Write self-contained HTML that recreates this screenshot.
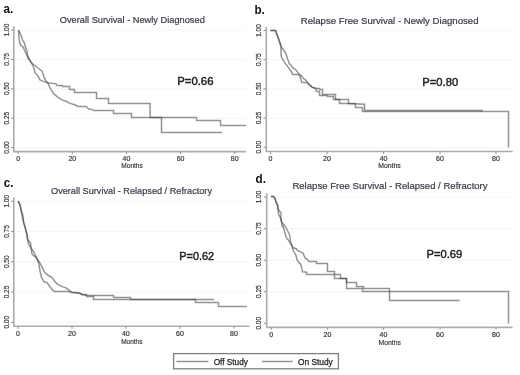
<!DOCTYPE html>
<html><head><meta charset="utf-8"><style>
html,body{margin:0;padding:0;background:#fff;}
svg{display:block;will-change:transform;}
text{font-family:"Liberation Sans", sans-serif;}
</style></head><body>
<svg width="520" height="375" viewBox="0 0 520 375">
<rect width="520" height="375" fill="#fff"/>
<line x1="15.3" y1="30.0" x2="246" y2="30.0" stroke="#f7f7f7" stroke-width="1.2"/>
<line x1="15.3" y1="59.4" x2="246" y2="59.4" stroke="#f7f7f7" stroke-width="1.2"/>
<line x1="15.3" y1="88.8" x2="246" y2="88.8" stroke="#f7f7f7" stroke-width="1.2"/>
<line x1="15.3" y1="118.2" x2="246" y2="118.2" stroke="#f7f7f7" stroke-width="1.2"/>
<line x1="15.3" y1="147.6" x2="246" y2="147.6" stroke="#f7f7f7" stroke-width="1.2"/>
<polyline points="13.8,26.3 13.8,151.6 246,151.6" fill="none" stroke="#acacac" stroke-width="1.6"/>
<line x1="11.0" y1="30.0" x2="13.8" y2="30.0" stroke="#999" stroke-width="1.1"/>
<text x="0" y="0" transform="translate(5.9,30.0) rotate(-90) scale(0.92,1)" text-anchor="middle" dominant-baseline="central" font-size="7" fill="#333" stroke="#333" stroke-width="0.18">1.00</text>
<line x1="11.0" y1="59.4" x2="13.8" y2="59.4" stroke="#999" stroke-width="1.1"/>
<text x="0" y="0" transform="translate(5.9,59.4) rotate(-90) scale(0.92,1)" text-anchor="middle" dominant-baseline="central" font-size="7" fill="#333" stroke="#333" stroke-width="0.18">0.75</text>
<line x1="11.0" y1="88.8" x2="13.8" y2="88.8" stroke="#999" stroke-width="1.1"/>
<text x="0" y="0" transform="translate(5.9,88.8) rotate(-90) scale(0.92,1)" text-anchor="middle" dominant-baseline="central" font-size="7" fill="#333" stroke="#333" stroke-width="0.18">0.50</text>
<line x1="11.0" y1="118.2" x2="13.8" y2="118.2" stroke="#999" stroke-width="1.1"/>
<text x="0" y="0" transform="translate(5.9,118.2) rotate(-90) scale(0.92,1)" text-anchor="middle" dominant-baseline="central" font-size="7" fill="#333" stroke="#333" stroke-width="0.18">0.25</text>
<line x1="11.0" y1="147.6" x2="13.8" y2="147.6" stroke="#999" stroke-width="1.1"/>
<text x="0" y="0" transform="translate(5.9,147.6) rotate(-90) scale(0.92,1)" text-anchor="middle" dominant-baseline="central" font-size="7" fill="#333" stroke="#333" stroke-width="0.18">0.00</text>
<line x1="18.1" y1="151.6" x2="18.1" y2="154.0" stroke="#999" stroke-width="1.1"/>
<text x="18.1" y="160.8" text-anchor="middle" font-size="7" fill="#333" stroke="#333" stroke-width="0.18">0</text>
<line x1="72.3" y1="151.6" x2="72.3" y2="154.0" stroke="#999" stroke-width="1.1"/>
<text x="72.3" y="160.8" text-anchor="middle" font-size="7" fill="#333" stroke="#333" stroke-width="0.18">20</text>
<line x1="126.5" y1="151.6" x2="126.5" y2="154.0" stroke="#999" stroke-width="1.1"/>
<text x="126.5" y="160.8" text-anchor="middle" font-size="7" fill="#333" stroke="#333" stroke-width="0.18">40</text>
<line x1="180.6" y1="151.6" x2="180.6" y2="154.0" stroke="#999" stroke-width="1.1"/>
<text x="180.6" y="160.8" text-anchor="middle" font-size="7" fill="#333" stroke="#333" stroke-width="0.18">60</text>
<line x1="234.7" y1="151.6" x2="234.7" y2="154.0" stroke="#999" stroke-width="1.1"/>
<text x="234.7" y="160.8" text-anchor="middle" font-size="7" fill="#333" stroke="#333" stroke-width="0.18">80</text>
<text x="121.3" y="167.6" font-size="6.5" fill="#333" stroke="#333" stroke-width="0.15" textLength="21.5" lengthAdjust="spacingAndGlyphs">Months</text>
<polyline points="18.5,30.2 18.8,34.4 19.2,38.9 19.8,43.4 21.4,45.9 23.3,47.2 24.3,49.8 25.3,52.0 26.2,53.9 27.2,55.5 29.0,58.4 31.2,62.5 32.0,64.0 34.0,68.0 35.0,73.0 38.0,76.0 40.0,80.0 44.0,81.6 48.0,83.0 55.6,83.6 57.0,85.5 62.5,85.5 62.5,86.5 69.5,86.5 69.5,89.5 74.5,89.5 74.5,92.5 96.5,92.5 96.5,98.5 108.5,98.5 108.5,103.5 150.0,103.5 150.2,117.5 161.5,117.5 161.5,132.5 222.0,132.5" fill="none" stroke="#3a3a3a" stroke-opacity="0.55" stroke-width="1.5" stroke-linejoin="miter"/>
<polyline points="18.5,30.2 19.8,32.5 21.4,36.3 22.4,39.5 23.7,41.8 24.6,43.4 25.3,46.6 26.2,49.2 27.2,52.0 27.4,55.0 28.0,58.4 29.5,60.2 31.2,62.5 33.0,64.0 38.0,68.0 42.0,71.0 44.0,77.0 46.0,81.0 48.0,83.0 49.4,86.8 53.5,93.7 57.7,97.2 61.9,99.9 66.0,101.3 70.2,103.4 75.0,104.8 77.8,106.5 86.0,106.5 88.5,108.7 92.0,109.6 93.7,110.5 113.5,110.5 113.5,113.5 131.5,113.5 131.5,117.5 196.5,117.5 196.5,120.5 220.5,120.5 220.5,125.5 246.0,125.5" fill="none" stroke="#463a3a" stroke-opacity="0.55" stroke-width="1.5" stroke-linejoin="miter"/>
<text x="59.8" y="23.1" font-size="9.4" fill="#3a3a48" stroke="#3a3a48" stroke-width="0.2" textLength="145" lengthAdjust="spacingAndGlyphs">Overall Survival - Newly Diagnosed</text>
<text x="0" y="0" transform="translate(3.6,13.4) scale(0.9,1)" font-size="13" font-weight="bold" fill="#111">a.</text>
<text x="177.2" y="84.6" font-size="11.8" fill="#222" stroke="#222" stroke-width="0.45" textLength="36.3" lengthAdjust="spacingAndGlyphs">P=0.66</text>
<line x1="267.8" y1="30.5" x2="512.6" y2="30.5" stroke="#f7f7f7" stroke-width="1.2"/>
<line x1="267.8" y1="59.7" x2="512.6" y2="59.7" stroke="#f7f7f7" stroke-width="1.2"/>
<line x1="267.8" y1="88.9" x2="512.6" y2="88.9" stroke="#f7f7f7" stroke-width="1.2"/>
<line x1="267.8" y1="118.1" x2="512.6" y2="118.1" stroke="#f7f7f7" stroke-width="1.2"/>
<line x1="267.8" y1="147.3" x2="512.6" y2="147.3" stroke="#f7f7f7" stroke-width="1.2"/>
<polyline points="266.3,26.9 266.3,151.5 512.6,151.5" fill="none" stroke="#acacac" stroke-width="1.6"/>
<line x1="263.5" y1="30.5" x2="266.3" y2="30.5" stroke="#999" stroke-width="1.1"/>
<text x="0" y="0" transform="translate(258.1,30.5) rotate(-90) scale(0.92,1)" text-anchor="middle" dominant-baseline="central" font-size="7" fill="#333" stroke="#333" stroke-width="0.18">1.00</text>
<line x1="263.5" y1="59.7" x2="266.3" y2="59.7" stroke="#999" stroke-width="1.1"/>
<text x="0" y="0" transform="translate(258.1,59.7) rotate(-90) scale(0.92,1)" text-anchor="middle" dominant-baseline="central" font-size="7" fill="#333" stroke="#333" stroke-width="0.18">0.75</text>
<line x1="263.5" y1="88.9" x2="266.3" y2="88.9" stroke="#999" stroke-width="1.1"/>
<text x="0" y="0" transform="translate(258.1,88.9) rotate(-90) scale(0.92,1)" text-anchor="middle" dominant-baseline="central" font-size="7" fill="#333" stroke="#333" stroke-width="0.18">0.50</text>
<line x1="263.5" y1="118.1" x2="266.3" y2="118.1" stroke="#999" stroke-width="1.1"/>
<text x="0" y="0" transform="translate(258.1,118.1) rotate(-90) scale(0.92,1)" text-anchor="middle" dominant-baseline="central" font-size="7" fill="#333" stroke="#333" stroke-width="0.18">0.25</text>
<line x1="263.5" y1="147.3" x2="266.3" y2="147.3" stroke="#999" stroke-width="1.1"/>
<text x="0" y="0" transform="translate(258.1,147.3) rotate(-90) scale(0.92,1)" text-anchor="middle" dominant-baseline="central" font-size="7" fill="#333" stroke="#333" stroke-width="0.18">0.00</text>
<line x1="270.4" y1="151.5" x2="270.4" y2="153.9" stroke="#999" stroke-width="1.1"/>
<text x="270.4" y="161.0" text-anchor="middle" font-size="7" fill="#333" stroke="#333" stroke-width="0.18">0</text>
<line x1="327" y1="151.5" x2="327" y2="153.9" stroke="#999" stroke-width="1.1"/>
<text x="327" y="161.0" text-anchor="middle" font-size="7" fill="#333" stroke="#333" stroke-width="0.18">20</text>
<line x1="383.6" y1="151.5" x2="383.6" y2="153.9" stroke="#999" stroke-width="1.1"/>
<text x="383.6" y="161.0" text-anchor="middle" font-size="7" fill="#333" stroke="#333" stroke-width="0.18">40</text>
<line x1="440" y1="151.5" x2="440" y2="153.9" stroke="#999" stroke-width="1.1"/>
<text x="440" y="161.0" text-anchor="middle" font-size="7" fill="#333" stroke="#333" stroke-width="0.18">60</text>
<line x1="496" y1="151.5" x2="496" y2="153.9" stroke="#999" stroke-width="1.1"/>
<text x="496" y="161.0" text-anchor="middle" font-size="7" fill="#333" stroke="#333" stroke-width="0.18">80</text>
<text x="378.2" y="167.9" font-size="6.5" fill="#333" stroke="#333" stroke-width="0.15" textLength="22.5" lengthAdjust="spacingAndGlyphs">Months</text>
<polyline points="270.5,30.5 275.5,30.5 276.0,31.5 277.1,35.1 279.1,40.2 280.7,45.3 281.0,47.8 281.2,56.4 282.7,59.4 285.1,63.1 288.1,67.1 291.1,71.2 292.7,74.5 297.7,74.5 299.8,75.7 300.8,79.3 301.8,82.5 306.8,82.5 308.4,84.3 312.4,87.4 316.5,88.5 319.5,88.5 319.5,89.5 322.5,89.5 322.5,94.5 335.5,94.5 335.5,99.5 348.5,99.5 348.5,103.5 364.5,104.2 364.5,110.5 483.0,110.5" fill="none" stroke="#3a3a3a" stroke-opacity="0.55" stroke-width="1.5" stroke-linejoin="miter"/>
<polyline points="270.5,30.5 275.5,30.5 276.0,31.5 277.1,35.1 279.1,40.2 280.7,45.3 282.2,48.3 284.7,51.3 286.2,54.4 287.8,59.4 289.5,64.0 290.1,64.1 293.2,68.1 296.2,70.2 298.7,73.7 300.8,75.2 303.3,78.3 305.8,80.3 308.4,83.3 310.4,85.4 312.4,87.4 315.5,88.4 316.5,91.5 319.5,91.5 319.5,95.5 327.5,95.5 327.5,96.5 333.5,96.5 333.5,99.5 339.5,99.5 339.5,103.5 355.5,103.5 355.5,107.5 362.5,107.5 362.5,111.5 508.5,111.5 508.5,147.3" fill="none" stroke="#463a3a" stroke-opacity="0.55" stroke-width="1.5" stroke-linejoin="miter"/>
<text x="300.8" y="23.8" font-size="9.4" fill="#3a3a48" stroke="#3a3a48" stroke-width="0.2" textLength="177.7" lengthAdjust="spacingAndGlyphs">Relapse Free Survival - Newly Diagnosed</text>
<text x="0" y="0" transform="translate(254.4,13.5) scale(0.9,1)" font-size="13" font-weight="bold" fill="#111">b.</text>
<text x="422.3" y="86.2" font-size="11.8" fill="#222" stroke="#222" stroke-width="0.45" textLength="35.9" lengthAdjust="spacingAndGlyphs">P=0.80</text>
<line x1="15.3" y1="201.3" x2="249.4" y2="201.3" stroke="#f7f7f7" stroke-width="1.2"/>
<line x1="15.3" y1="231.5" x2="249.4" y2="231.5" stroke="#f7f7f7" stroke-width="1.2"/>
<line x1="15.3" y1="261.8" x2="249.4" y2="261.8" stroke="#f7f7f7" stroke-width="1.2"/>
<line x1="15.3" y1="292.0" x2="249.4" y2="292.0" stroke="#f7f7f7" stroke-width="1.2"/>
<line x1="15.3" y1="322.3" x2="249.4" y2="322.3" stroke="#f7f7f7" stroke-width="1.2"/>
<polyline points="13.8,197.5 13.8,326.3 249.4,326.3" fill="none" stroke="#acacac" stroke-width="1.6"/>
<line x1="11.0" y1="201.3" x2="13.8" y2="201.3" stroke="#999" stroke-width="1.1"/>
<text x="0" y="0" transform="translate(5.9,201.3) rotate(-90) scale(0.92,1)" text-anchor="middle" dominant-baseline="central" font-size="7" fill="#333" stroke="#333" stroke-width="0.18">1.00</text>
<line x1="11.0" y1="231.5" x2="13.8" y2="231.5" stroke="#999" stroke-width="1.1"/>
<text x="0" y="0" transform="translate(5.9,231.5) rotate(-90) scale(0.92,1)" text-anchor="middle" dominant-baseline="central" font-size="7" fill="#333" stroke="#333" stroke-width="0.18">0.75</text>
<line x1="11.0" y1="261.8" x2="13.8" y2="261.8" stroke="#999" stroke-width="1.1"/>
<text x="0" y="0" transform="translate(5.9,261.8) rotate(-90) scale(0.92,1)" text-anchor="middle" dominant-baseline="central" font-size="7" fill="#333" stroke="#333" stroke-width="0.18">0.50</text>
<line x1="11.0" y1="292.0" x2="13.8" y2="292.0" stroke="#999" stroke-width="1.1"/>
<text x="0" y="0" transform="translate(5.9,292.0) rotate(-90) scale(0.92,1)" text-anchor="middle" dominant-baseline="central" font-size="7" fill="#333" stroke="#333" stroke-width="0.18">0.25</text>
<line x1="11.0" y1="322.3" x2="13.8" y2="322.3" stroke="#999" stroke-width="1.1"/>
<text x="0" y="0" transform="translate(5.9,322.3) rotate(-90) scale(0.92,1)" text-anchor="middle" dominant-baseline="central" font-size="7" fill="#333" stroke="#333" stroke-width="0.18">0.00</text>
<line x1="18" y1="326.3" x2="18" y2="328.7" stroke="#999" stroke-width="1.1"/>
<text x="18" y="336.2" text-anchor="middle" font-size="7" fill="#333" stroke="#333" stroke-width="0.18">0</text>
<line x1="72" y1="326.3" x2="72" y2="328.7" stroke="#999" stroke-width="1.1"/>
<text x="72" y="336.2" text-anchor="middle" font-size="7" fill="#333" stroke="#333" stroke-width="0.18">20</text>
<line x1="125.8" y1="326.3" x2="125.8" y2="328.7" stroke="#999" stroke-width="1.1"/>
<text x="125.8" y="336.2" text-anchor="middle" font-size="7" fill="#333" stroke="#333" stroke-width="0.18">40</text>
<line x1="180" y1="326.3" x2="180" y2="328.7" stroke="#999" stroke-width="1.1"/>
<text x="180" y="336.2" text-anchor="middle" font-size="7" fill="#333" stroke="#333" stroke-width="0.18">60</text>
<line x1="234" y1="326.3" x2="234" y2="328.7" stroke="#999" stroke-width="1.1"/>
<text x="234" y="336.2" text-anchor="middle" font-size="7" fill="#333" stroke="#333" stroke-width="0.18">80</text>
<text x="121.2" y="343.5" font-size="6.5" fill="#333" stroke="#333" stroke-width="0.15" textLength="21.3" lengthAdjust="spacingAndGlyphs">Months</text>
<polyline points="18.1,201.0 20.1,205.1 21.1,210.2 22.1,216.2 23.6,222.3 25.1,227.4 27.2,235.5 27.5,239.1 28.6,244.2 31.1,248.2 32.1,254.3 36.2,257.3 36.8,258.5 38.8,263.5 40.2,271.9 41.6,277.4 43.7,281.5 47.2,282.9 49.2,285.7 52.0,289.2 54.1,291.5 68.6,291.5 71.4,292.5 80.0,293.3 82.0,294.5 87.3,295.5 113.5,295.5 113.5,297.5 130.5,297.5 130.5,299.5 214.0,299.5" fill="none" stroke="#3a3a3a" stroke-opacity="0.55" stroke-width="1.5" stroke-linejoin="miter"/>
<polyline points="18.1,201.0 20.1,205.1 21.1,210.2 23.1,216.2 23.6,222.3 25.1,227.4 27.2,235.5 27.5,239.1 30.6,243.1 31.1,248.2 34.1,252.3 36.2,257.3 36.8,258.5 39.5,262.2 42.3,267.7 44.4,271.9 46.5,273.9 49.2,276.0 52.0,277.4 54.8,281.5 57.5,284.3 61.7,286.4 65.9,287.8 68.6,289.9 71.4,291.9 75.6,292.6 79.7,293.3 81.8,294.5 86.5,294.5 86.5,296.5 93.5,296.5 93.5,299.5 195.5,299.5 195.5,302.5 218.5,302.5 218.5,306.5 247.0,306.5" fill="none" stroke="#463a3a" stroke-opacity="0.55" stroke-width="1.5" stroke-linejoin="miter"/>
<text x="51" y="194" font-size="9.4" fill="#3a3a48" stroke="#3a3a48" stroke-width="0.2" textLength="161" lengthAdjust="spacingAndGlyphs">Overall Survival - Relapsed / Refractory</text>
<text x="0" y="0" transform="translate(3.8,186.7) scale(0.9,1)" font-size="13" font-weight="bold" fill="#111">c.</text>
<text x="179.2" y="260" font-size="11.8" fill="#222" stroke="#222" stroke-width="0.45" textLength="35" lengthAdjust="spacingAndGlyphs">P=0.62</text>
<line x1="268.2" y1="197.0" x2="512.6" y2="197.0" stroke="#f7f7f7" stroke-width="1.2"/>
<line x1="268.2" y1="228.6" x2="512.6" y2="228.6" stroke="#f7f7f7" stroke-width="1.2"/>
<line x1="268.2" y1="260.2" x2="512.6" y2="260.2" stroke="#f7f7f7" stroke-width="1.2"/>
<line x1="268.2" y1="291.7" x2="512.6" y2="291.7" stroke="#f7f7f7" stroke-width="1.2"/>
<line x1="268.2" y1="323.3" x2="512.6" y2="323.3" stroke="#f7f7f7" stroke-width="1.2"/>
<polyline points="266.7,193.2 266.7,327.4 512.6,327.4" fill="none" stroke="#acacac" stroke-width="1.6"/>
<line x1="263.9" y1="197.0" x2="266.7" y2="197.0" stroke="#999" stroke-width="1.1"/>
<text x="0" y="0" transform="translate(258.1,197.0) rotate(-90) scale(0.92,1)" text-anchor="middle" dominant-baseline="central" font-size="7" fill="#333" stroke="#333" stroke-width="0.18">1.00</text>
<line x1="263.9" y1="228.6" x2="266.7" y2="228.6" stroke="#999" stroke-width="1.1"/>
<text x="0" y="0" transform="translate(258.1,228.6) rotate(-90) scale(0.92,1)" text-anchor="middle" dominant-baseline="central" font-size="7" fill="#333" stroke="#333" stroke-width="0.18">0.75</text>
<line x1="263.9" y1="260.2" x2="266.7" y2="260.2" stroke="#999" stroke-width="1.1"/>
<text x="0" y="0" transform="translate(258.1,260.2) rotate(-90) scale(0.92,1)" text-anchor="middle" dominant-baseline="central" font-size="7" fill="#333" stroke="#333" stroke-width="0.18">0.50</text>
<line x1="263.9" y1="291.7" x2="266.7" y2="291.7" stroke="#999" stroke-width="1.1"/>
<text x="0" y="0" transform="translate(258.1,291.7) rotate(-90) scale(0.92,1)" text-anchor="middle" dominant-baseline="central" font-size="7" fill="#333" stroke="#333" stroke-width="0.18">0.25</text>
<line x1="263.9" y1="323.3" x2="266.7" y2="323.3" stroke="#999" stroke-width="1.1"/>
<text x="0" y="0" transform="translate(258.1,323.3) rotate(-90) scale(0.92,1)" text-anchor="middle" dominant-baseline="central" font-size="7" fill="#333" stroke="#333" stroke-width="0.18">0.00</text>
<line x1="271.3" y1="327.4" x2="271.3" y2="329.79999999999995" stroke="#999" stroke-width="1.1"/>
<text x="271.3" y="337.4" text-anchor="middle" font-size="7" fill="#333" stroke="#333" stroke-width="0.18">0</text>
<line x1="327.4" y1="327.4" x2="327.4" y2="329.79999999999995" stroke="#999" stroke-width="1.1"/>
<text x="327.4" y="337.4" text-anchor="middle" font-size="7" fill="#333" stroke="#333" stroke-width="0.18">20</text>
<line x1="383.5" y1="327.4" x2="383.5" y2="329.79999999999995" stroke="#999" stroke-width="1.1"/>
<text x="383.5" y="337.4" text-anchor="middle" font-size="7" fill="#333" stroke="#333" stroke-width="0.18">40</text>
<line x1="440" y1="327.4" x2="440" y2="329.79999999999995" stroke="#999" stroke-width="1.1"/>
<text x="440" y="337.4" text-anchor="middle" font-size="7" fill="#333" stroke="#333" stroke-width="0.18">60</text>
<line x1="496" y1="327.4" x2="496" y2="329.79999999999995" stroke="#999" stroke-width="1.1"/>
<text x="496" y="337.4" text-anchor="middle" font-size="7" fill="#333" stroke="#333" stroke-width="0.18">80</text>
<text x="378.5" y="344.8" font-size="6.5" fill="#333" stroke="#333" stroke-width="0.15" textLength="22.4" lengthAdjust="spacingAndGlyphs">Months</text>
<polyline points="271.0,196.5 273.6,196.5 275.1,199.1 276.1,202.1 277.6,205.2 278.1,209.2 278.6,214.3 280.7,218.3 281.7,222.4 282.2,226.4 283.1,226.0 286.1,237.2 290.7,243.3 292.2,246.3 293.2,247.8 296.2,248.7 297.5,250.4 299.2,251.2 301.0,252.1 303.1,253.0 304.0,255.6 305.3,258.2 307.5,259.5 308.5,261.5 316.5,261.5 316.5,263.5 327.5,263.5 327.5,271.5 334.5,271.5 334.5,274.5 340.5,274.5 340.5,278.5 346.5,278.5 346.5,282.5 356.5,282.5 356.5,286.5 363.5,286.5 363.5,288.5 389.5,288.5 389.5,300.5 459.6,300.5" fill="none" stroke="#3a3a3a" stroke-opacity="0.55" stroke-width="1.5" stroke-linejoin="miter"/>
<polyline points="271.0,196.5 273.6,196.5 275.1,199.1 276.1,202.1 277.6,205.2 278.1,209.2 281.2,213.3 280.7,218.3 281.7,222.4 284.7,225.4 287.2,230.0 289.7,235.2 290.7,243.3 292.2,246.3 292.8,249.5 294.1,252.1 295.8,254.7 296.7,258.2 297.3,260.6 299.3,262.9 300.5,264.0 301.3,266.3 301.9,268.7 302.5,271.8 306.5,272.2 306.5,274.5 334.5,274.5 334.5,278.5 346.5,278.5 346.5,288.5 362.5,288.5 362.5,291.5 508.5,291.5 508.5,323.3" fill="none" stroke="#463a3a" stroke-opacity="0.55" stroke-width="1.5" stroke-linejoin="miter"/>
<text x="292.4" y="189.4" font-size="9.4" fill="#3a3a48" stroke="#3a3a48" stroke-width="0.2" textLength="195.2" lengthAdjust="spacingAndGlyphs">Relapse Free Survival - Relapsed / Refractory</text>
<text x="0" y="0" transform="translate(255.6,183) scale(0.9,1)" font-size="13" font-weight="bold" fill="#111">d.</text>
<text x="426.5" y="258.1" font-size="11.8" fill="#222" stroke="#222" stroke-width="0.45" textLength="35.8" lengthAdjust="spacingAndGlyphs">P=0.69</text>
<rect x="173.6" y="353.6" width="164.8" height="15.2" fill="#fff" stroke="#808080" stroke-width="1.3"/>
<line x1="176.4" y1="361.5" x2="208.3" y2="361.5" stroke="#3a3a3a" stroke-opacity="0.55" stroke-width="1.5"/>
<text x="213.7" y="364.8" font-size="8.6" fill="#222" stroke="#222" stroke-width="0.25" textLength="34.2" lengthAdjust="spacingAndGlyphs">Off Study</text>
<line x1="262" y1="361.5" x2="292.7" y2="361.5" stroke="#463a3a" stroke-opacity="0.55" stroke-width="1.5"/>
<text x="298" y="364.8" font-size="8.6" fill="#222" stroke="#222" stroke-width="0.25" textLength="34.7" lengthAdjust="spacingAndGlyphs">On Study</text>

</svg>
</body></html>
